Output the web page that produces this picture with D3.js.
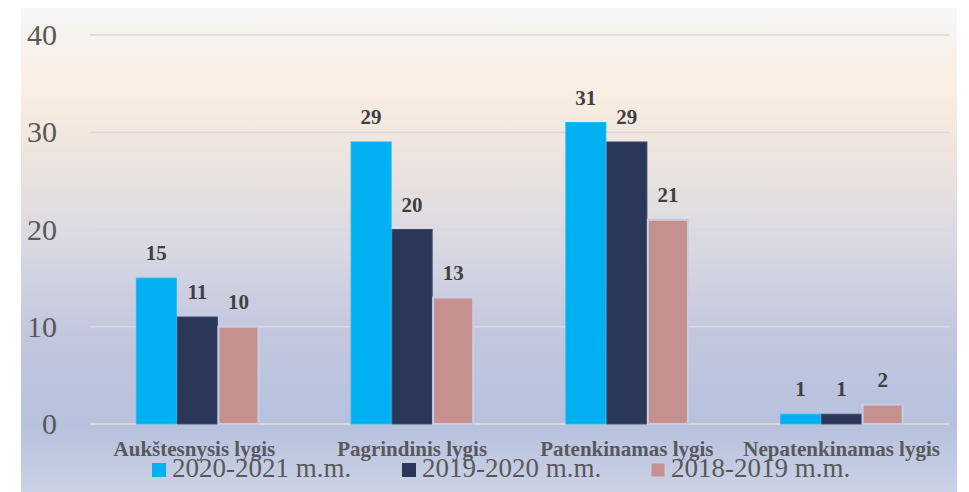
<!DOCTYPE html>
<html>
<head>
<meta charset="utf-8">
<script src="https://d3js.org/d3.v7.min.js"></script>
<style>
  body { margin: 0; background: #ffffff; }
  svg { display: block; }
</style>
</head>
<body>
<div id="chart"></div>
<script>
// data
var categories = ["Aukštesnysis lygis", "Pagrindinis lygis", "Patenkinamas lygis", "Nepatenkinamas lygis"]
var seriesNames = ["2020-2021 m.m.", "2019-2020 m.m.", "2018-2019 m.m."]
var values2021 = [15, 29, 31, 1]
var values2020 = [11, 20, 29, 1]
var values2019 = [10, 13, 21, 2]
var yTicks = [0, 10, 20, 30, 40]

var colors = ["#00b0f0", "#2a3759", "#c4918e"]
var seriesValues = [values2021, values2020, values2019]
var serif = "'Liberation Serif', 'Times New Roman', serif"

var W = 969, H = 492
var svg = d3.select('#chart').append('svg')
  .attr('width', W)
  .attr('height', H)

// background gradient
var defs = svg.append('defs')
var grad = defs.append('linearGradient')
  .attr('id', 'bg')
  .attr('x1', 0).attr('y1', 0).attr('x2', 0).attr('y2', 1)
var stops = [
  [0, '#f6f7fa'], [0.06, '#f7f3ee'], [0.17, '#faeee2'], [0.3, '#ede4de'],
  [0.5, '#d8d8e2'], [0.67, '#c3c7de'], [0.86, '#b7c1de'], [1, '#cbd2e5']
]
grad.selectAll('stop').data(stops).enter().append('stop')
  .attr('offset', function(d){ return d[0] })
  .attr('stop-color', function(d){ return d[1] })

svg.append('rect')
  .attr('x', 21).attr('y', 8)
  .attr('width', 936).attr('height', 484)
  .attr('fill', 'url(#bg)')

var left = 90, right = 949
var y = d3.scaleLinear().domain([0, 40]).range([424, 35])
var x0 = d3.scaleBand().domain(categories).range([left, right])
  .paddingInner(0.427).paddingOuter(0.2135)
var x1 = d3.scaleBand().domain(seriesNames).range([0, x0.bandwidth()])

// gridlines
svg.append('g').selectAll('line')
  .data(yTicks)
  .enter()
  .append('line')
  .attr('x1', left).attr('x2', right)
  .attr('y1', function(d){ return y(d) })
  .attr('y2', function(d){ return y(d) })
  .attr('stroke', '#d9d9d9')
  .attr('stroke-width', function(d){ return d === 0 ? 2 : 1.5 })

// y tick labels
svg.append('g').selectAll('text')
  .data(yTicks)
  .enter()
  .append('text')
  .attr('x', 57)
  .attr('y', function(d){ return y(d) + 10 })
  .attr('text-anchor', 'end')
  .attr('font-family', serif)
  .attr('font-size', 30)
  .attr('fill', '#595959')
  .text(function(d){ return d })

// bars
var groups = svg.append('g').selectAll('g')
  .data(categories)
  .enter()
  .append('g')
  .attr('transform', function(d){ return 'translate(' + x0(d) + ',0)' })

function rows(d, i){
  return seriesNames.map(function(s, j){ return {s: s, j: j, v: seriesValues[j][i]} })
}

groups.selectAll('rect')
  .data(rows)
  .enter()
  .append('rect')
  .attr('x', function(d){ return x1(d.s) + 0.5 })
  .attr('y', function(d){ return y(d.v) })
  .attr('width', x1.bandwidth() - 1)
  .attr('height', function(d){ return y(0) - y(d.v) })
  .attr('fill', function(d){ return colors[d.j] })
  .attr('stroke', function(d){ return d.j === 2 ? '#c9cde2' : (d.j === 1 ? '#3a4870' : '#1fb8f0') })
  .attr('stroke-width', function(d){ return d.j === 2 ? 2 : 1 })

groups.selectAll('text')
  .data(rows)
  .enter()
  .append('text')
  .attr('x', function(d){ return x1(d.s) + x1.bandwidth() / 2 })
  .attr('y', function(d){ return y(d.v) - 18 })
  .attr('text-anchor', 'middle')
  .attr('font-family', serif)
  .attr('font-weight', 'bold')
  .attr('font-size', 21)
  .attr('fill', '#404040')
  .text(function(d){ return d.v })

// category labels
svg.append('g').selectAll('text')
  .data(categories)
  .enter()
  .append('text')
  .attr('x', function(d, i){ return x0(d) + x0.bandwidth() / 2 - (i === 0 ? 3 : 0) })
  .attr('y', 456)
  .attr('text-anchor', 'middle')
  .attr('font-family', serif)
  .attr('font-weight', 'bold')
  .attr('font-size', 21)
  .attr('fill', '#595959')
  .text(function(d){ return d })

// legend
var legendX = [152, 402, 651]
var legend = svg.append('g').selectAll('g')
  .data(seriesNames)
  .enter()
  .append('g')
  .attr('transform', function(d, i){ return 'translate(' + legendX[i] + ',463)' })
legend.append('rect')
  .attr('width', 14).attr('height', 14)
  .attr('fill', function(d, i){ return colors[i] })
  .attr('stroke', function(d, i){ return i === 2 ? '#c9cde2' : 'none' })
legend.append('text')
  .attr('x', 20)
  .attr('y', 14)
  .attr('font-family', serif)
  .attr('font-size', 27)
  .attr('fill', '#595959')
  .text(function(d){ return d })
</script>
</body>
</html>
